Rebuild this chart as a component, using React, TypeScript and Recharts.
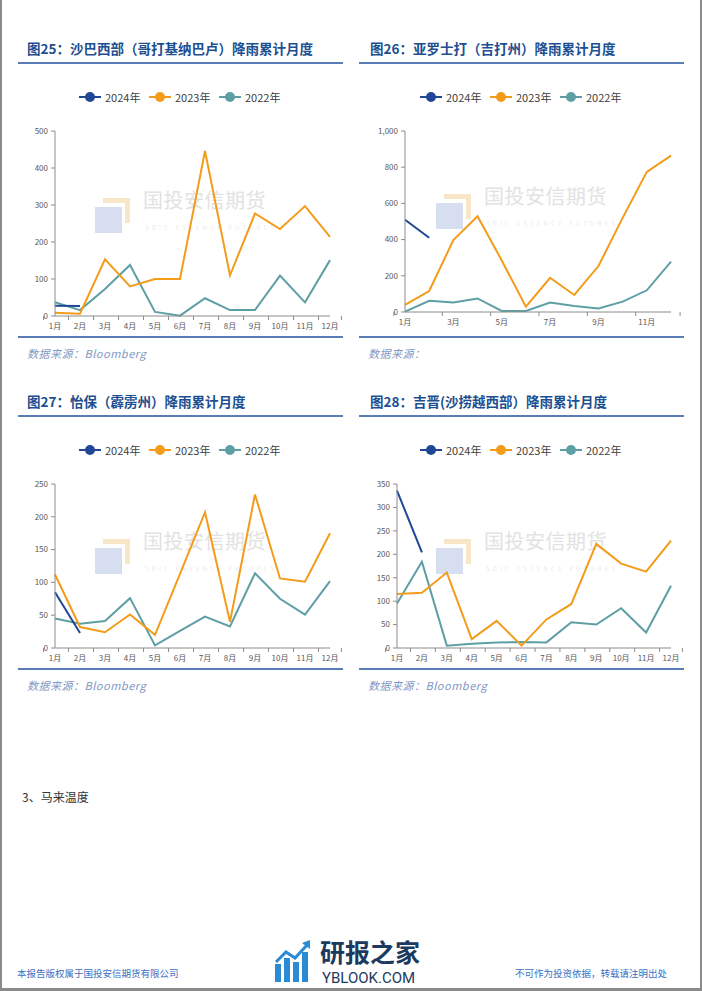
import React from 'react';
import { LineChart, Line, XAxis, YAxis } from 'recharts';

const months = ['1月', '2月', '3月', '4月', '5月', '6月', '7月', '8月', '9月', '10月', '11月', '12月'];
const years = ['2024年', '2023年', '2022年'];

// 图25 沙巴西部（哥打基纳巴卢）
const kkRain2024 = [28, 27];
const kkRain2023 = [9, 6, 153, 80, 100, 100, 446, 110, 277, 235, 297, 214];
const kkRain2022 = [37, 16, 73, 138, 11, 1, 48, 16, 16, 109, 37, 151];
const kkTicks = [0, 100, 200, 300, 400, 500];

// 图26 亚罗士打（吉打州）
const asRain2024 = [510, 410];
const asRain2023 = [39, 116, 397, 529, 285, 29, 189, 94, 254, 520, 774, 864];
const asRain2022 = [2, 62, 52, 75, 6, 6, 52, 33, 20, 57, 120, 278];
const asTicks = [0, 200, 400, 600, 800, 1000];

// 图27 怡保（霹雳州）
const ipohRain2024 = [85, 23];
const ipohRain2023 = [112, 32, 24, 51, 20, 113, 207, 40, 234, 106, 101, 175];
const ipohRain2022 = [45, 37, 41, 76, 4, 26, 48, 33, 114, 75, 51, 102];
const ipohTicks = [0, 50, 100, 150, 200, 250];

// 图28 吉晋（沙捞越西部）
const kcRain2024 = [336, 204];
const kcRain2023 = [115, 118, 161, 19, 58, 5, 61, 94, 222, 180, 163, 229];
const kcRain2022 = [95, 184, 5, 9, 12, 13, 12, 55, 50, 85, 33, 133];
const kcTicks = [0, 50, 100, 150, 200, 250, 300, 350];

const C24 = '#1f4796';
const C23 = '#f39c1a';
const C22 = '#5e9fa6';
const AXIS = '#8c8c8c';
const TICK = '#595959';
const RULE = '#5a7db5';
const CJK = '"Noto Sans CJK SC", "Noto Sans", sans-serif';

function MonthTick({ x, y, payload, bw, step }: any) {
  const i = months.indexOf(payload.value);
  const x0 = x - bw / 2;
  const last = i + step >= months.length;
  return (
    <g>
      <line x1={x0} x2={x0} y1={y} y2={y + 4} stroke={AXIS} />
      {last && <line x1={x0 + step * bw} x2={x0 + step * bw} y1={y} y2={y + 4} stroke={AXIS} />}
      <text x={x} y={y + 13} textAnchor="middle" fontSize={8} fill={TICK} fontFamily={CJK}>
        {payload.value}
      </text>
    </g>
  );
}

type ChartProps = {
  left: number; top: number; width: number; height: number;
  yw: number; mt: number; mr: number; xh: number; step: number;
  s24: number[]; s23: number[]; s22: number[]; ticks: number[];
};

function RainChart(p: ChartProps) {
  const data = months.map((m, i) => ({
    month: m,
    y2024: i < p.s24.length ? p.s24[i] : null,
    y2023: p.s23[i],
    y2022: p.s22[i],
  }));
  const bw = (p.width - p.yw - p.mr) / months.length;
  const ymax = p.ticks[p.ticks.length - 1];
  return (
    <div style={{ position: 'absolute', left: p.left, top: p.top }}>
      <LineChart width={p.width} height={p.height} data={data}
        margin={{ top: p.mt, right: p.mr, bottom: 0, left: 0 }}>
        <XAxis dataKey="month" interval={p.step - 1} height={p.xh}
          tickSize={0} tickMargin={0} tickLine={false}
          axisLine={{ stroke: AXIS }}
          tick={(t: any) => <MonthTick {...t} bw={bw} step={p.step} />} />
        <YAxis width={p.yw} domain={[0, ymax]} ticks={p.ticks} interval={0}
          tickSize={4} tickMargin={3}
          axisLine={{ stroke: AXIS }} tickLine={{ stroke: AXIS }}
          tick={{ fontSize: 8, fill: TICK, fontFamily: CJK }}
          tickFormatter={(v: number) => v.toLocaleString('en-US')} />
        <Line type="linear" dataKey="y2022" stroke={C22} strokeWidth={2} dot={false} isAnimationActive={false} />
        <Line type="linear" dataKey="y2023" stroke={C23} strokeWidth={2} dot={false} isAnimationActive={false} />
        <Line type="linear" dataKey="y2024" stroke={C24} strokeWidth={2} dot={false} isAnimationActive={false} />
      </LineChart>
    </div>
  );
}

function LegendRow({ left, top }: { left: number; top: number }) {
  const cols = [C24, C23, C22];
  return (
    <div style={{ position: 'absolute', left, top, display: 'flex', fontFamily: CJK, fontSize: 11, color: '#404040' }}>
      {years.map((y, i) => (
        <div key={y} style={{ display: 'flex', alignItems: 'center', width: 70 }}>
          <svg width={22} height={12}>
            <line x1={0} x2={22} y1={6} y2={6} stroke={cols[i]} strokeWidth={2} />
            <circle cx={11} cy={6} r={5} fill={cols[i]} />
          </svg>
          <span style={{ marginLeft: 4 }}>{y}</span>
        </div>
      ))}
    </div>
  );
}

function Watermark({ lx, ty }: { lx: number; ty: number }) {
  return (
    <>
      <div style={{ position: 'absolute', left: lx + 8, top: ty - 9, width: 27, height: 25, background: '#f7e6c8' }} />
      <div style={{ position: 'absolute', left: lx + 8, top: ty - 4, width: 22, height: 20, background: '#fff' }} />
      <div style={{ position: 'absolute', left: lx, top: ty, width: 27, height: 26, background: '#d6deef' }} />
      <div style={{ position: 'absolute', left: lx + 48, top: ty - 22, fontFamily: CJK, fontSize: 20, color: '#e2e2e2', letterSpacing: 0.5, whiteSpace: 'nowrap' }}>国投安信期货</div>
      <div style={{ position: 'absolute', left: lx + 50, top: ty + 16, fontFamily: CJK, fontSize: 6, color: '#ececec', letterSpacing: 3.2, whiteSpace: 'nowrap' }}>SDIC ESSENCE FUTURES</div>
    </>
  );
}

function Header({ left, ruleLeft, top, title }: { left: number; ruleLeft: number; top: number; title: string }) {
  return (
    <>
      <div style={{ position: 'absolute', left, top: top - 10, fontFamily: CJK, fontWeight: 700, fontSize: 13.5, color: '#1d4f91', whiteSpace: 'nowrap', lineHeight: '20px' }}>{title}</div>
      <div style={{ position: 'absolute', left: ruleLeft, top: top + 14, width: 325, height: 1.5, background: RULE }} />
    </>
  );
}

function Footer({ ruleLeft, top, source }: { ruleLeft: number; top: number; source: string }) {
  return (
    <>
      <div style={{ position: 'absolute', left: ruleLeft, top, width: 325, height: 1.5, background: RULE }} />
      <div style={{ position: 'absolute', left: ruleLeft + 9, top: top + 9, fontFamily: CJK, fontStyle: 'italic', fontSize: 11, color: '#7f97c4', whiteSpace: 'nowrap', letterSpacing: 0.5 }}>{source}</div>
    </>
  );
}

export default function App() {
  return (
    <div style={{ position: 'absolute', left: 0, top: 0, width: 702, height: 991, background: '#fff', overflow: 'hidden' }}>
      <div style={{ position: 'absolute', left: 0, top: 0, width: 2, height: 991, background: '#8a8a8a' }} />
      <div style={{ position: 'absolute', left: 700, top: 0, width: 2, height: 991, background: '#8a8a8a' }} />
      <div style={{ position: 'absolute', left: 0, top: 988, width: 702, height: 3, background: '#8a8a8a' }} />

      <Watermark lx={95} ty={207} />
      <Watermark lx={436} ty={203} />
      <Watermark lx={95} ty={548} />
      <Watermark lx={436} ty={548} />

      <Header left={27} ruleLeft={18} top={48} title="图25：沙巴西部（哥打基纳巴卢）降雨累计月度" />
      <Header left={370} ruleLeft={359} top={48} title="图26：亚罗士打（吉打州）降雨累计月度" />
      <Header left={27} ruleLeft={18} top={401} title="图27：怡保（霹雳州）降雨累计月度" />
      <Header left={370} ruleLeft={359} top={401} title="图28：吉晋(沙捞越西部）降雨累计月度" />

      <LegendRow left={79} top={89} />
      <LegendRow left={420} top={89} />
      <LegendRow left={79} top={442} />
      <LegendRow left={420} top={442} />

      <RainChart left={0} top={120} width={350} height={220} yw={55} mt={11} mr={20} xh={24} step={1}
        s24={kkRain2024} s23={kkRain2023} s22={kkRain2022} ticks={kkTicks} />
      <RainChart left={350} top={120} width={340} height={220} yw={55} mt={11} mr={19} xh={28} step={2}
        s24={asRain2024} s23={asRain2023} s22={asRain2022} ticks={asTicks} />
      <RainChart left={0} top={470} width={350} height={200} yw={55} mt={14} mr={20} xh={22} step={1}
        s24={ipohRain2024} s23={ipohRain2023} s22={ipohRain2022} ticks={ipohTicks} />
      <RainChart left={350} top={470} width={340} height={200} yw={47} mt={14} mr={19} xh={22} step={1}
        s24={kcRain2024} s23={kcRain2023} s22={kcRain2022} ticks={kcTicks} />

      <Footer ruleLeft={18} top={336} source="数据来源：Bloomberg" />
      <Footer ruleLeft={359} top={336} source="数据来源：" />
      <Footer ruleLeft={18} top={668} source="数据来源：Bloomberg" />
      <Footer ruleLeft={359} top={668} source="数据来源：Bloomberg" />

      <div style={{ position: 'absolute', left: 22, top: 788, fontFamily: CJK, fontSize: 12, color: '#333' }}>3、马来温度</div>

      <div style={{ position: 'absolute', left: 17, top: 966, fontFamily: CJK, fontSize: 9.5, color: '#3b6fc2', whiteSpace: 'nowrap' }}>本报告版权属于国投安信期货有限公司</div>
      <div style={{ position: 'absolute', left: 515, top: 966, fontFamily: CJK, fontSize: 9.5, color: '#3b6fc2', whiteSpace: 'nowrap' }}>不可作为投资依据，转载请注明出处</div>

      <svg style={{ position: 'absolute', left: 274, top: 940 }} width={38} height={44}>
        <rect x={1} y={24} width={6} height={18} fill="#2a8ad4" />
        <rect x={10} y={18} width={6} height={24} fill="#2a8ad4" />
        <rect x={19} y={22} width={6} height={20} fill="#2a8ad4" />
        <rect x={28} y={12} width={6} height={30} fill="#2a8ad4" />
        <polyline points="2,22 12,12 21,18 34,4" fill="none" stroke="#2a8ad4" strokeWidth={3} />
        <polygon points="36,0 36,9 28,3" fill="#2a8ad4" />
      </svg>
      <div style={{ position: 'absolute', left: 320, top: 937, fontFamily: CJK, fontWeight: 700, fontSize: 25, color: '#1c3a5e', whiteSpace: 'nowrap', lineHeight: '28px', height: 28 }}>研报之家</div>
      <div style={{ position: 'absolute', left: 322, top: 970, fontFamily: 'Roboto, "Noto Sans", sans-serif', fontSize: 15, color: '#1c3a5e', whiteSpace: 'nowrap', lineHeight: '16px', height: 16 }}>YBLOOK.COM</div>
    </div>
  );
}
